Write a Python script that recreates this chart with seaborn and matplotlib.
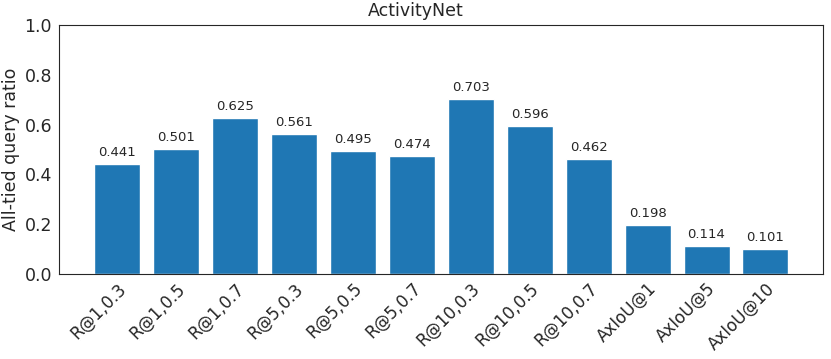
import numpy as np
import pandas as pd
import seaborn as sns
import matplotlib.pyplot as plt

sns.set_style("white")

metrics = ['R@1,0.3', 'R@1,0.5', 'R@1,0.7', 'R@5,0.3', 'R@5,0.5', 'R@5,0.7',
           'R@10,0.3', 'R@10,0.5', 'R@10,0.7', 'AxIoU@1', 'AxIoU@5', 'AxIoU@10']
ratios = [0.441, 0.501, 0.625, 0.561, 0.495, 0.474,
          0.703, 0.596, 0.462, 0.198, 0.114, 0.101]

df = pd.DataFrame({'metric': metrics, 'ratio': ratios})

fig, ax = plt.subplots(figsize=(8.31, 3.59), dpi=100)
sns.barplot(data=df, x='metric', y='ratio', color='#1f77b4', saturation=1,
            width=0.78, ax=ax)

for i, v in enumerate(ratios):
    ax.text(i, v + 0.02, f'{v:.3f}', ha='center', va='bottom', fontsize=9.5)

ax.set_ylim(0, 1.0)
ax.set_xlim(-0.98, 11.97)
ax.set_yticks(np.arange(0, 1.01, 0.2))
ax.set_xlabel('')
ax.set_ylabel('All-tied query ratio', fontsize=12.5, labelpad=3)
ax.tick_params(axis='y', labelsize=12.5, length=0, pad=5)
ax.tick_params(axis='x', labelsize=12, length=0, pad=4)
plt.setp(ax.get_xticklabels(), rotation=45, ha='right', rotation_mode='anchor')

# title sits on the figure centre, not the axes centre
fig.suptitle('ActivityNet', fontsize=12.5, x=0.5, y=0.995)

fig.subplots_adjust(left=0.071, right=0.99, top=0.93, bottom=0.237)
fig.savefig('out.png')
